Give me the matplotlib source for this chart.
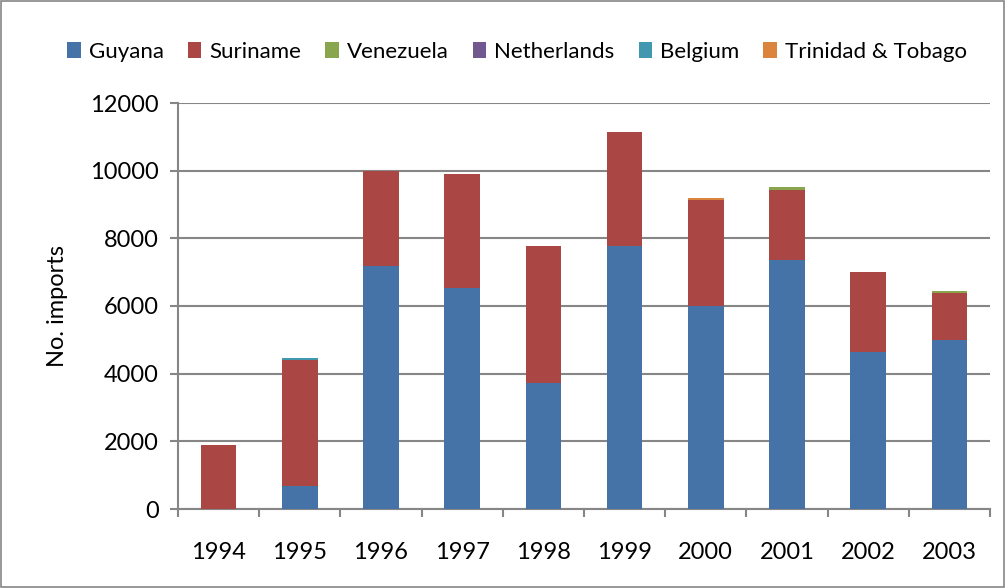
import matplotlib.pyplot as plt
import numpy as np

plt.rcParams["font.family"] = ["Lato", "DejaVu Sans"]

years = ["1994", "1995", "1996", "1997", "1998", "1999", "2000", "2001", "2002", "2003"]
guyana = [0, 680, 7180, 6530, 3720, 7770, 6000, 7360, 4640, 5000]
suriname = [1900, 3720, 2820, 3370, 4050, 3370, 3130, 2070, 2360, 1390]
venezuela = [0, 0, 0, 0, 0, 0, 0, 80, 0, 60]
netherlands = [0, 0, 0, 0, 0, 0, 0, 0, 0, 0]
belgium = [0, 60, 0, 0, 0, 0, 0, 0, 0, 0]
trinidad = [0, 0, 0, 0, 0, 0, 60, 0, 0, 0]

series = [
    ("Guyana", guyana, "#4572A7"),
    ("Suriname", suriname, "#AA4643"),
    ("Venezuela", venezuela, "#89A54E"),
    ("Netherlands", netherlands, "#71588F"),
    ("Belgium", belgium, "#4198AF"),
    ("Trinidad & Tobago", trinidad, "#DB843D"),
]

fig = plt.figure(figsize=(10.06, 5.88), dpi=100)
ax = fig.add_axes([178 / 1006, 1 - 509 / 588, (990 - 178) / 1006, (509 - 103) / 588])

x = np.arange(len(years))
bottom = np.zeros(len(years))
for name, vals, color in series:
    vals = np.array(vals, dtype=float)
    ax.bar(x, vals, width=0.44, bottom=bottom, color=color, label=name, zorder=3)
    bottom += vals

ax.set_xlim(-0.5, len(years) - 0.5)
ax.set_ylim(0, 12000)
ax.set_yticks(np.arange(0, 12001, 2000))
ax.set_xticks(x)
ax.set_xticklabels(years)
ax.set_xticks(np.arange(-0.5, len(years), 1), minor=True)
ax.tick_params(axis="x", which="major", length=0, pad=24, labelsize=17)
ax.tick_params(axis="x", which="minor", length=6, color="#868686", width=1.5)
ax.tick_params(axis="y", length=6, color="#868686", width=1.5, labelsize=17, pad=8)

ax.grid(True, axis="y", color="#868686", linewidth=1.5, zorder=0)
for side in ["top", "right"]:
    ax.spines[side].set_visible(False)
for side in ["left", "bottom"]:
    ax.spines[side].set_color("#868686")
    ax.spines[side].set_linewidth(1.5)

ax.set_ylabel("No. imports", fontsize=17, labelpad=16)

ax.legend(
    loc="upper center",
    bbox_to_anchor=(517 / 1006, 1 - 22 / 588),
    bbox_transform=fig.transFigure,
    ncol=6,
    frameon=False,
    fontsize=16,
    handlelength=0.6,
    handleheight=0.7,
    handletextpad=0.35,
    columnspacing=1.1,
)

fig.patches.append(
    plt.Rectangle((0.001, 0.001), 0.997, 0.997, transform=fig.transFigure,
                  fill=False, edgecolor="#868686", linewidth=1.2)
)

fig.savefig("out.png", dpi=100)
